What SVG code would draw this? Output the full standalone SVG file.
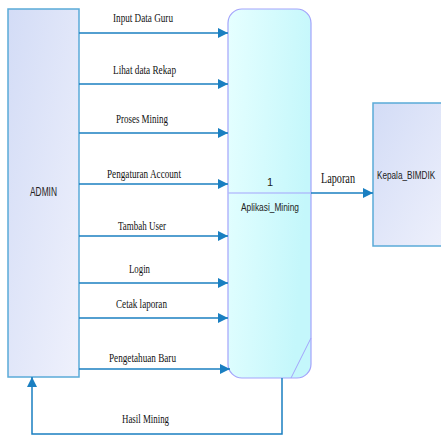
<svg xmlns="http://www.w3.org/2000/svg" width="441" height="437" viewBox="0 0 441 437">
  <defs>
    <linearGradient id="entityFill" x1="0" y1="0" x2="1" y2="1">
      <stop offset="0" stop-color="#d3dcf6"/>
      <stop offset="1" stop-color="#eff1fc"/>
    </linearGradient>
    <linearGradient id="processFill" x1="0" y1="0" x2="1" y2="0.3">
      <stop offset="0" stop-color="#e6ffff"/>
      <stop offset="1" stop-color="#c4f7fb"/>
    </linearGradient>
    <marker id="arrow" viewBox="0 0 10 10" refX="10" refY="5" markerWidth="10" markerHeight="10" markerUnits="userSpaceOnUse" orient="auto">
      <path d="M0,0 L10,5 L0,10 z" fill="#1a7fc1"/>
    </marker>
  </defs>
  <style>
    .entity { fill: url(#entityFill); stroke: #5aaad8; stroke-width: 1.5; }
    .process { fill: url(#processFill); stroke: #a3a3fb; stroke-width: 1.2; }
    .flow { fill: none; stroke: #1a7fc1; stroke-width: 1.5; marker-end: url(#arrow); }
    .flowlabel { font-family: "Liberation Serif", "Times New Roman", serif; font-size: 12px; fill: #111; }
    .name { font-family: "Liberation Sans", Arial, sans-serif; font-size: 11px; fill: #222; }
  </style>

  <rect width="441" height="437" fill="#ffffff"/>

  <!-- external entity: ADMIN -->
  <g id="admin">
    <rect class="entity" x="8" y="9" width="71" height="368"/>
    <text class="name" x="30" y="196" style="font-size:12px" textLength="27" lengthAdjust="spacingAndGlyphs">ADMIN</text>
  </g>

  <!-- process 1 -->
  <g id="aplikasi-mining">
    <rect class="process" x="228" y="9" width="83" height="369" rx="14" ry="14"/>
    <line x1="228.5" y1="193" x2="310.5" y2="193" stroke="#a3a3fb" stroke-width="1.2"/>
    <line x1="311" y1="338" x2="291" y2="378" stroke="#a3a3fb" stroke-width="1"/>
    <text class="name" x="270" y="186" text-anchor="middle">1</text>
    <text class="name" x="241" y="211" textLength="58" lengthAdjust="spacingAndGlyphs">Aplikasi_Mining</text>
  </g>

  <!-- external entity: Kepala_BIMDIK -->
  <g id="kepala-bimdik">
    <rect class="entity" x="373" y="103" width="80" height="143"/>
    <text class="name" style="font-size:8.2px" transform="translate(377,179) scale(1,1.22)">Kepala_BIMDIK</text>
  </g>

  <!-- data flows -->
  <g id="connectors">
    <line class="flow" x1="79" y1="33" x2="228" y2="33"/>
    <line class="flow" x1="79" y1="84" x2="228" y2="84"/>
    <line class="flow" x1="79" y1="133" x2="228" y2="133"/>
    <line class="flow" x1="79" y1="184" x2="228" y2="184"/>
    <line class="flow" x1="79" y1="236" x2="228" y2="236"/>
    <line class="flow" x1="79" y1="283" x2="228" y2="283"/>
    <line class="flow" x1="79" y1="318" x2="228" y2="318"/>
    <line class="flow" x1="79" y1="369" x2="230" y2="369"/>
    <line class="flow" x1="311" y1="193" x2="373" y2="193"/>
    <polyline class="flow" points="282,378 282,434 32,434 32,377"/>

    <text class="flowlabel" x="113" y="22" textLength="60" lengthAdjust="spacingAndGlyphs">Input Data Guru</text>
    <text class="flowlabel" x="113" y="74" textLength="63" lengthAdjust="spacingAndGlyphs">Lihat data Rekap</text>
    <text class="flowlabel" x="116" y="123" textLength="52" lengthAdjust="spacingAndGlyphs">Proses Mining</text>
    <text class="flowlabel" x="107" y="178" textLength="74" lengthAdjust="spacingAndGlyphs">Pengaturan Account</text>
    <text class="flowlabel" x="118" y="230" textLength="48" lengthAdjust="spacingAndGlyphs">Tambah User</text>
    <text class="flowlabel" x="129" y="273" textLength="21" lengthAdjust="spacingAndGlyphs">Login</text>
    <text class="flowlabel" x="116" y="308" textLength="51" lengthAdjust="spacingAndGlyphs">Cetak laporan</text>
    <text class="flowlabel" x="109" y="362" textLength="67" lengthAdjust="spacingAndGlyphs">Pengetahuan Baru</text>
    <text class="flowlabel" x="122" y="423" textLength="47" lengthAdjust="spacingAndGlyphs">Hasil Mining</text>
    <text class="flowlabel" x="321" y="183" style="font-size:14px" textLength="34" lengthAdjust="spacingAndGlyphs">Laporan</text>
  </g>
</svg>
